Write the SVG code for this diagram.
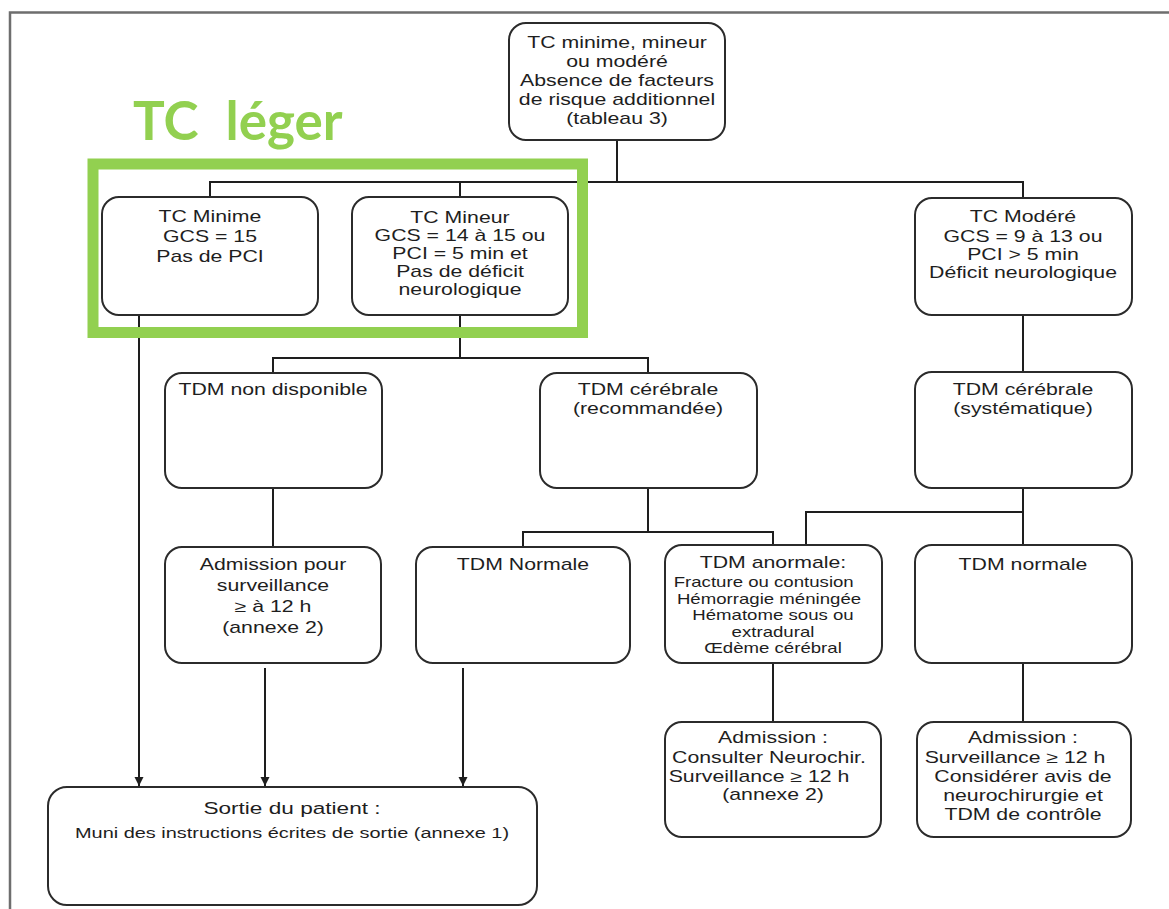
<svg xmlns="http://www.w3.org/2000/svg" width="1169" height="909" viewBox="0 0 1169 909">
<defs>
<style>
.box{fill:#fff;stroke:#2b2b2b;stroke-width:2}
.lbl text{text-anchor:middle;font-family:"Liberation Sans",Arial,sans-serif;font-size:16px;fill:#1e1e1e}
.lbl text.sm{font-size:14px}
.con line,.con path{stroke:#1e1e1e;stroke-width:2;fill:none}
</style>
<marker id="arr" markerUnits="userSpaceOnUse" markerWidth="10" markerHeight="10" refX="9" refY="5" orient="auto">
<path d="M0,0.5 L9,5 L0,9.5 Z" fill="#1e1e1e"/>
</marker>
</defs>
<rect x="0" y="0" width="1169" height="909" fill="#fff"/>
<path d="M10,909 V12.5 H1169" fill="none" stroke="#6e6e6e" stroke-width="2.5"/>

<g id="connectors" class="con">
<line x1="617" y1="140" x2="617" y2="182"/>
<line x1="209" y1="182" x2="1024" y2="182"/>
<line x1="210" y1="182" x2="210" y2="197"/>
<line x1="460" y1="182" x2="460" y2="197"/>
<line x1="1023" y1="182" x2="1023" y2="198"/>
<line x1="139" y1="315" x2="139" y2="786" marker-end="url(#arr)"/>
<line x1="460" y1="315" x2="460" y2="358"/>
<line x1="272" y1="358" x2="649" y2="358"/>
<line x1="273" y1="358" x2="273" y2="373"/>
<line x1="648" y1="358" x2="648" y2="373"/>
<line x1="273" y1="488" x2="273" y2="547"/>
<line x1="265" y1="668" x2="265" y2="786" marker-end="url(#arr)"/>
<line x1="648" y1="488" x2="648" y2="532"/>
<line x1="522" y1="532" x2="774" y2="532"/>
<line x1="523" y1="532" x2="523" y2="547"/>
<line x1="773" y1="532" x2="773" y2="545"/>
<line x1="463" y1="668" x2="463" y2="786" marker-end="url(#arr)"/>
<line x1="1023" y1="315" x2="1023" y2="372"/>
<line x1="1023" y1="488" x2="1023" y2="545"/>
<line x1="805" y1="512" x2="1024" y2="512"/>
<line x1="806" y1="512" x2="806" y2="545"/>
<line x1="773" y1="663" x2="773" y2="722"/>
<line x1="1023" y1="663" x2="1023" y2="722"/>
</g>

<g id="n-top">
<rect class="box" x="509" y="23" width="216" height="117" rx="17"/>
<g class="lbl" transform="translate(617 0) scale(1.33 1)">
<text y="48">TC minime, mineur</text>
<text y="67">ou modéré</text>
<text y="86">Absence de facteurs</text>
<text y="105">de risque additionnel</text>
<text y="124">(tableau 3)</text>
</g>
</g>

<g id="n-minime">
<rect class="box" x="102" y="197" width="216" height="118" rx="17"/>
<g class="lbl" transform="translate(210 0) scale(1.33 1)">
<text y="222">TC Minime</text>
<text y="242">GCS = 15</text>
<text y="262">Pas de PCI</text>
</g>
</g>

<g id="n-mineur">
<rect class="box" x="352" y="197" width="216" height="118" rx="17"/>
<g class="lbl" transform="translate(460 0) scale(1.33 1)">
<text y="223">TC Mineur</text>
<text y="241">GCS = 14 à 15 ou</text>
<text y="259">PCI = 5 min et</text>
<text y="277">Pas de déficit</text>
<text y="295">neurologique</text>
</g>
</g>

<g id="n-modere">
<rect class="box" x="915" y="198" width="217" height="117" rx="17"/>
<g class="lbl" transform="translate(1023 0) scale(1.33 1)">
<text y="222">TC Modéré</text>
<text y="242">GCS = 9 à 13 ou</text>
<text y="260">PCI &gt; 5 min</text>
<text y="278">Déficit neurologique</text>
</g>
</g>

<g id="n-tdm-nd">
<rect class="box" x="165" y="373" width="217" height="115" rx="17"/>
<g class="lbl" transform="translate(273 0) scale(1.33 1)">
<text y="395">TDM non disponible</text>
</g>
</g>

<g id="n-tdm-rec">
<rect class="box" x="540" y="373" width="217" height="115" rx="17"/>
<g class="lbl" transform="translate(648 0) scale(1.33 1)">
<text y="395">TDM cérébrale</text>
<text y="414">(recommandée)</text>
</g>
</g>

<g id="n-tdm-sys">
<rect class="box" x="915" y="372" width="217" height="116" rx="17"/>
<g class="lbl" transform="translate(1023 0) scale(1.33 1)">
<text y="395">TDM cérébrale</text>
<text y="414">(systématique)</text>
</g>
</g>

<g id="n-adm-surv">
<rect class="box" x="165" y="547" width="216" height="116" rx="17"/>
<g class="lbl" transform="translate(273 0) scale(1.33 1)">
<text y="570">Admission pour</text>
<text y="591">surveillance</text>
<text y="612">≥ à 12 h</text>
<text y="633">(annexe 2)</text>
</g>
</g>

<g id="n-tdm-normale-l">
<rect class="box" x="416" y="547" width="214" height="116" rx="17"/>
<g class="lbl" transform="translate(523 0) scale(1.33 1)">
<text y="570">TDM Normale</text>
</g>
</g>

<g id="n-tdm-anormale">
<rect class="box" x="665" y="545" width="217" height="118" rx="17"/>
<g class="lbl" transform="translate(773 0) scale(1.33 1)">
<text y="568">TDM anormale:</text>
<text class="sm" x="-7" y="587">Fracture ou contusion</text>
<text class="sm" x="-3" y="604">Hémorragie méningée</text>
<text class="sm" y="620">Hématome sous ou</text>
<text class="sm" y="637">extradural</text>
<text class="sm" y="653">Œdème cérébral</text>
</g>
</g>

<g id="n-tdm-normale-r">
<rect class="box" x="915" y="545" width="217" height="118" rx="17"/>
<g class="lbl" transform="translate(1023 0) scale(1.33 1)">
<text y="570">TDM normale</text>
</g>
</g>

<g id="n-adm-neuro">
<rect class="box" x="665" y="722" width="216" height="115" rx="17"/>
<g class="lbl" transform="translate(773 0) scale(1.33 1)">
<text y="743">Admission :</text>
<text x="-3" y="763">Consulter Neurochir.</text>
<text x="-10.5" y="782">Surveillance ≥ 12 h</text>
<text y="800">(annexe 2)</text>
</g>
</g>

<g id="n-adm-ctrl">
<rect class="box" x="917" y="722" width="214" height="115" rx="17"/>
<g class="lbl" transform="translate(1023 0) scale(1.33 1)">
<text y="743">Admission :</text>
<text x="-6" y="763">Surveillance ≥ 12 h</text>
<text y="782">Considérer avis de</text>
<text y="801">neurochirurgie et</text>
<text y="820">TDM de contrôle</text>
</g>
</g>

<g id="n-sortie">
<rect class="box" x="48" y="787" width="489" height="118" rx="19"/>
<g class="lbl" transform="translate(292 0) scale(1.33 1)">
<text y="814" style="font-size:17px">Sortie du patient :</text>
<text y="838" style="font-size:15px">Muni des instructions écrites de sortie (annexe 1)</text>
</g>
</g>

<g id="tc-leger">
<rect x="93" y="164" width="489.5" height="168.5" fill="none" stroke="#92D050" stroke-width="11"/>
<text x="133" y="140" font-family="Lato, 'Open Sans', sans-serif" font-size="53" font-weight="bold" fill="#92D050" word-spacing="14">TC léger</text>
</g>
</svg>
